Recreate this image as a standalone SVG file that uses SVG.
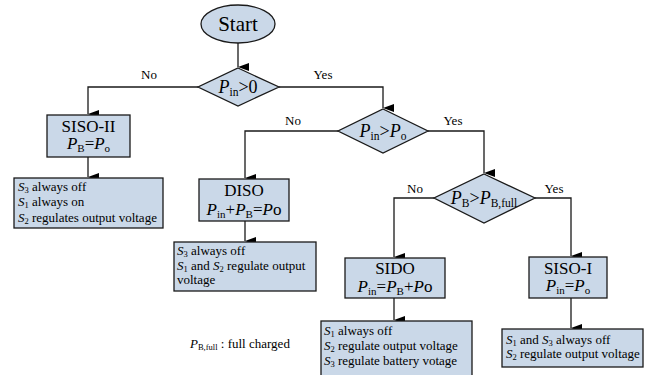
<svg xmlns="http://www.w3.org/2000/svg" width="654" height="375" viewBox="0 0 654 375" font-family="Liberation Serif, Times New Roman, serif">
<style>
.n{fill:#cad8e8;stroke:#1a1a1a;stroke-width:1.3}
.c{fill:none;stroke:#1a1a1a;stroke-width:1.3;marker-end:url(#ah)}
text{fill:#000}
.t{font-size:17px;text-anchor:middle}
.d{font-size:18px;text-anchor:middle}
.s{font-size:13px}
.l{font-size:13px;text-anchor:middle}
.i{font-style:italic}
</style>
<defs>
<marker id="ah" markerUnits="userSpaceOnUse" markerWidth="8" markerHeight="11" refX="4" refY="11" orient="auto-start-reverse" viewBox="0 0 8 11">
<path d="M0,0 L8,0 L4,11 z" fill="#000"/>
</marker>
</defs>
<rect width="654" height="375" fill="#fff"/>
<g id="connectors">
<path class="c" d="M238,43 V67"/>
<path class="c" d="M198,87 H88 V114"/>
<path class="c" d="M88,157 V177"/>
<path class="c" d="M279,87 H383 V108"/>
<path class="c" d="M338,131 H245 V178"/>
<path class="c" d="M245,221 V241"/>
<path class="c" d="M428,131 H484 V173"/>
<path class="c" d="M434,198 H394 V257"/>
<path class="c" d="M394,298 V320"/>
<path class="c" d="M535,198 H571 V256"/>
<path class="c" d="M571,298 V328"/>
</g>
<g id="labels">
<text class="l" x="149" y="79">No</text>
<text class="l" x="323" y="79">Yes</text>
<text class="l" x="293" y="125">No</text>
<text class="l" x="453" y="125">Yes</text>
<text class="l" x="415" y="193">No</text>
<text class="l" x="554" y="193">Yes</text>
</g>
<g id="start">
<ellipse class="n" cx="238" cy="24" rx="37" ry="19"/>
<text x="238" y="31" font-size="21" text-anchor="middle">Start</text>
</g>
<g id="dec1">
<polygon class="n" points="238,68 279,87 238,106 198,87"/>
<text class="d" x="238" y="93"><tspan class="i">P</tspan><tspan font-size="11.5" dy="3">in</tspan><tspan dy="-3">&gt;0</tspan></text>
</g>
<g id="siso2">
<rect class="n" x="47" y="115" width="83" height="42"/>
<text class="t" x="88.5" y="132">SISO-II</text>
<text class="t" x="88.5" y="149"><tspan class="i">P</tspan><tspan font-size="11" dy="3">B</tspan><tspan dy="-3">=</tspan><tspan class="i">P</tspan><tspan font-size="11" dy="3">o</tspan></text>
</g>
<g id="siso2-desc">
<rect class="n" x="14" y="178" width="149" height="50"/>
<text class="s" x="18" y="191"><tspan class="i">S</tspan><tspan font-size="8.5" dy="2">3</tspan><tspan dy="-2"> always off</tspan></text>
<text class="s" x="18" y="206"><tspan class="i">S</tspan><tspan font-size="8.5" dy="2">1</tspan><tspan dy="-2"> always on</tspan></text>
<text class="s" x="18" y="222"><tspan class="i">S</tspan><tspan font-size="8.5" dy="2">2</tspan><tspan dy="-2"> regulates output voltage</tspan></text>
</g>
<g id="dec2">
<polygon class="n" points="383,109 428,131 383,153 338,131"/>
<text class="d" x="383" y="137"><tspan class="i">P</tspan><tspan font-size="11.5" dy="3">in</tspan><tspan dy="-3">&gt;</tspan><tspan class="i">P</tspan><tspan font-size="11.5" dy="3">o</tspan></text>
</g>
<g id="diso">
<rect class="n" x="199" y="179" width="90" height="42"/>
<text class="t" x="244" y="196">DISO</text>
<text class="t" x="244" y="215"><tspan class="i">P</tspan><tspan font-size="11" dy="3">in</tspan><tspan dy="-3">+</tspan><tspan class="i">P</tspan><tspan font-size="11" dy="3">B</tspan><tspan dy="-3">=</tspan><tspan class="i">P</tspan><tspan>o</tspan></text>
</g>
<g id="diso-desc">
<rect class="n" x="174" y="242" width="142" height="49"/>
<text class="s" x="177" y="255"><tspan class="i">S</tspan><tspan font-size="8.5" dy="2">3</tspan><tspan dy="-2"> always off</tspan></text>
<text class="s" x="177" y="270"><tspan class="i">S</tspan><tspan font-size="8.5" dy="2">1</tspan><tspan dy="-2"> and </tspan><tspan class="i">S</tspan><tspan font-size="8.5" dy="2">2</tspan><tspan dy="-2"> regulate output</tspan></text>
<text class="s" x="177" y="284">voltage</text>
</g>
<g id="dec3">
<polygon class="n" points="484,174 535,198 484,223 434,198"/>
<text class="d" x="484" y="204"><tspan class="i">P</tspan><tspan font-size="11.5" dy="3">B</tspan><tspan dy="-3">&gt;</tspan><tspan class="i">P</tspan><tspan font-size="11.5" dy="3">B,full</tspan></text>
</g>
<g id="sido">
<rect class="n" x="345" y="258" width="100" height="40"/>
<text class="t" x="395" y="274">SIDO</text>
<text class="t" x="395" y="292"><tspan class="i">P</tspan><tspan font-size="11" dy="3">in</tspan><tspan dy="-3">=</tspan><tspan class="i">P</tspan><tspan font-size="11" dy="3">B</tspan><tspan dy="-3">+</tspan><tspan class="i">P</tspan><tspan>o</tspan></text>
</g>
<g id="sido-desc">
<rect class="n" x="321" y="321" width="151" height="60"/>
<text class="s" x="324" y="335"><tspan class="i">S</tspan><tspan font-size="8.5" dy="2">1</tspan><tspan dy="-2"> always off</tspan></text>
<text class="s" x="324" y="350"><tspan class="i">S</tspan><tspan font-size="8.5" dy="2">2</tspan><tspan dy="-2"> regulate output voltage</tspan></text>
<text class="s" x="324" y="365"><tspan class="i">S</tspan><tspan font-size="8.5" dy="2">3</tspan><tspan dy="-2"> regulate battery votage</tspan></text>
</g>
<g id="siso1">
<rect class="n" x="529" y="257" width="78" height="41"/>
<text class="t" x="568" y="274">SISO-I</text>
<text class="t" x="568" y="291"><tspan class="i">P</tspan><tspan font-size="11" dy="3">in</tspan><tspan dy="-3">=</tspan><tspan class="i">P</tspan><tspan font-size="11" dy="3">o</tspan></text>
</g>
<g id="siso1-desc">
<rect class="n" x="502" y="329" width="141" height="38"/>
<text class="s" x="506" y="344"><tspan class="i">S</tspan><tspan font-size="8.5" dy="2">1</tspan><tspan dy="-2"> and </tspan><tspan class="i">S</tspan><tspan font-size="8.5" dy="2">3</tspan><tspan dy="-2"> always off</tspan></text>
<text class="s" x="506" y="358"><tspan class="i">S</tspan><tspan font-size="8.5" dy="2">2</tspan><tspan dy="-2"> regulate output voltage</tspan></text>
</g>
<g id="note">
<text class="s" x="190" y="348"><tspan class="i">P</tspan><tspan font-size="8.5" dy="2">B,full</tspan><tspan dy="-2"> : full charged</tspan></text>
</g>
</svg>
